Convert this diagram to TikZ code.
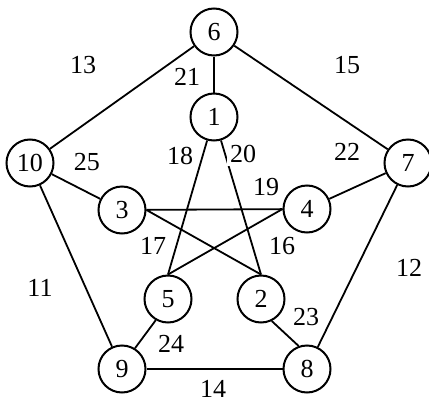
\documentclass[tikz,border=0pt]{standalone}
\usepackage{fontspec}
\setmainfont{Liberation Serif}
\usetikzlibrary{positioning}

\begin{document}
\begin{tikzpicture}[x=0.5pt, y=-0.5pt,
    vtx/.style={circle, draw, line width=1pt, fill=white, minimum size=23.5pt, inner sep=0pt, font=\fontsize{13}{15}\selectfont},
    wt/.style={fill=white, inner sep=1.5pt, font=\fontsize{13}{15}\selectfont},
    edge/.style={line width=0.9pt}
]
    \useasboundingbox (0,0) rectangle (429,413);

    % Outer pentagon vertices
    \node[vtx] (v6) at (214, 32) {6};
    \node[vtx] (v10) at (30, 163) {10};
    \node[vtx] (v7) at (408, 163) {7};
    \node[vtx] (v9) at (122, 369) {9};
    \node[vtx] (v8) at (307, 369) {8};

    % Inner star vertices
    \node[vtx] (v1) at (214, 117) {1};
    \node[vtx] (v3) at (122, 210) {3};
    \node[vtx] (v4) at (307, 209) {4};
    \node[vtx] (v5) at (168, 299) {5};
    \node[vtx] (v2) at (261, 299) {2};

    % Outer edges
    \draw[edge] (v6) -- (v1);
    \draw[edge] (v6) -- (v10);
    \draw[edge] (v6) -- (v7);
    \draw[edge] (v10) -- (v3);
    \draw[edge] (v10) -- (v9);
    \draw[edge] (v7) -- (v4);
    \draw[edge] (v7) -- (v8);
    \draw[edge] (v9) -- (v8);
    \draw[edge] (v5.240) -- (v9.58);
    \draw[edge] (v2.-64) -- (v8.110);

    % Star edges
    \draw[edge] (v1) -- (v5.north);
    \draw[edge] (v1) -- (v2.north);
    \draw[edge] (v3) -- (v4);
    \draw[edge] (v3.east) -- (v2.north);
    \draw[edge] (v4.west) -- (v5.north);

    % Edge weights
    \node[wt] (w13) at (83, 65) {13};
    \node[wt] (w21) at (187, 77) {21};
    \node[wt] (w15) at (347, 65) {15};
    \node[wt] (w18) at (180, 156) {18};
    \node[wt] (w20) at (243, 154) {20};
    \node[wt] (w25) at (87, 162) {25};
    \node[wt] (w22) at (347, 152) {22};
    \node[wt] (w19) at (266, 187) {19};
    \node[wt] (w17) at (153, 246) {17};
    \node[wt] (w16) at (282, 246) {16};
    \node[wt] (w11) at (40, 288) {11};
    \node[wt] (w12) at (409, 268) {12};
    \node[wt] (w24) at (171, 344) {24};
    \node[wt] (w23) at (306, 317) {23};
    \node[wt] (w14) at (213, 389) {14};
\end{tikzpicture}
\end{document}
